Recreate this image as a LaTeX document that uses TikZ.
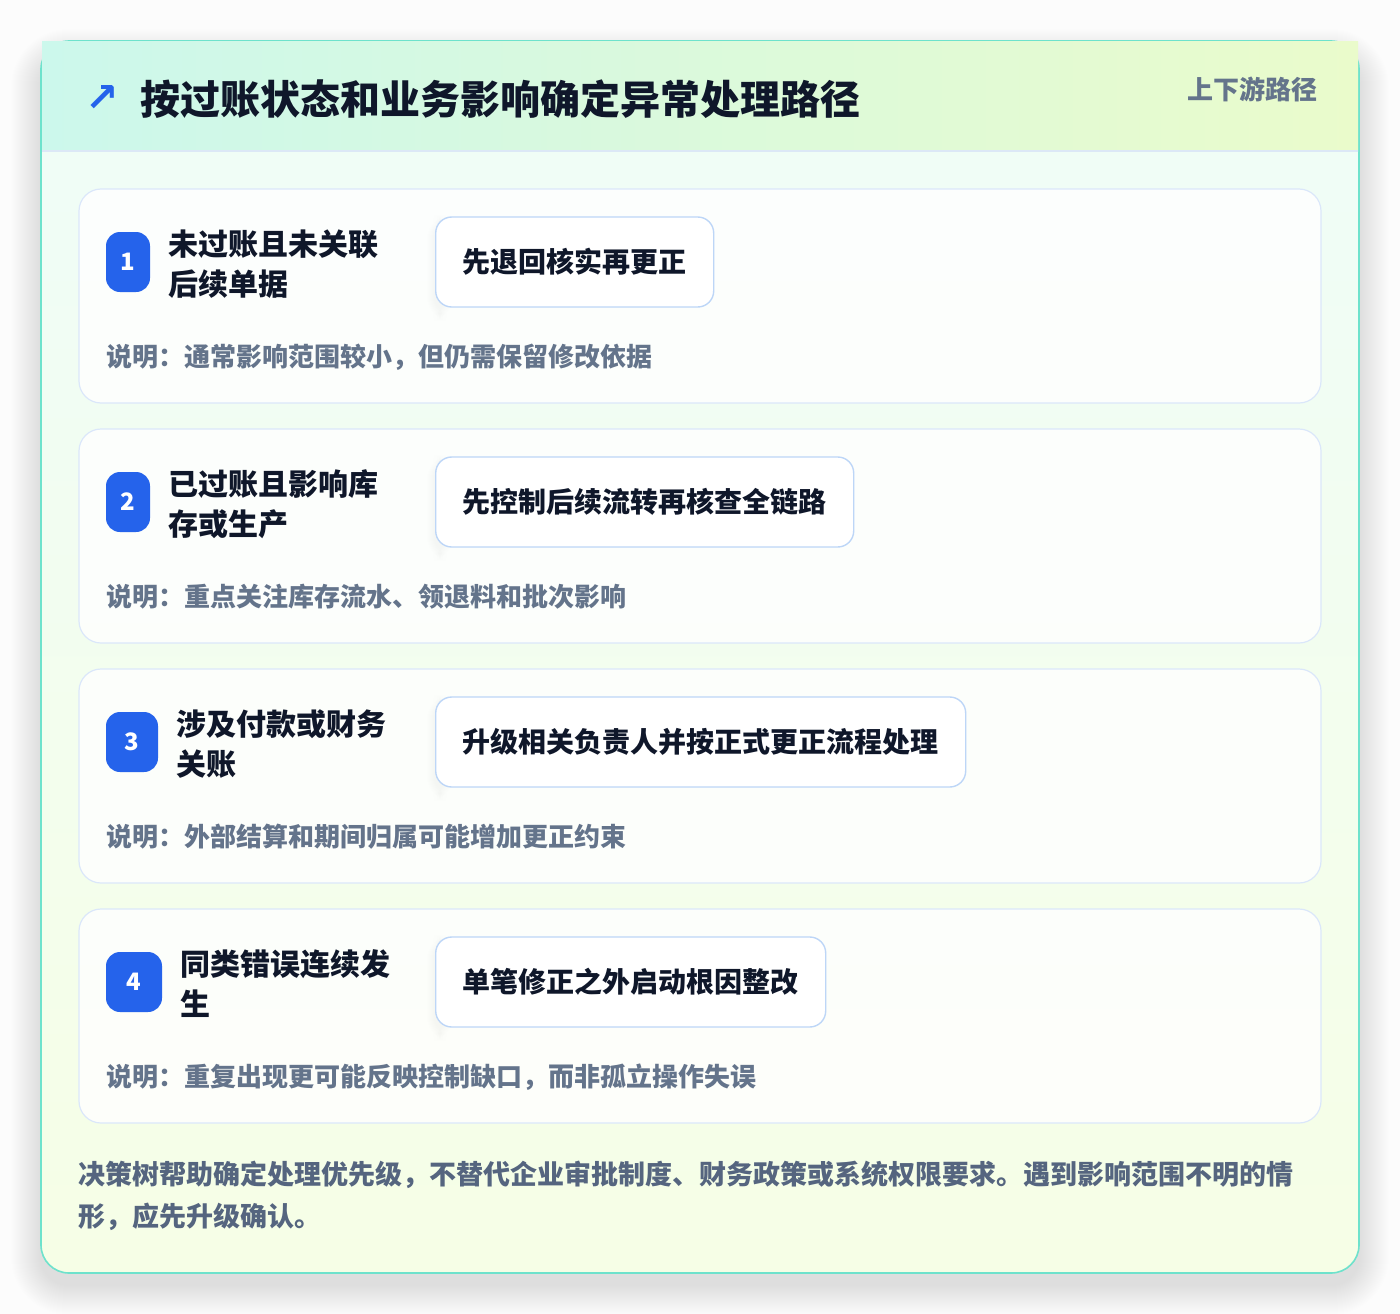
\documentclass[tikz,border=0pt]{standalone}
\usepackage{fontspec}
\setmainfont{Noto Sans CJK SC}
\newfontfamily\symfont{DejaVu Sans}
\definecolor{pagebg}{HTML}{FCFCFC}
\definecolor{bodytop}{HTML}{EFFDF8}
\definecolor{bodybot}{HTML}{F6FEE6}
\definecolor{hdrL}{HTML}{CCF8EC}
\definecolor{hdrR}{HTML}{EAFBCB}
\definecolor{outerline}{HTML}{6EE2CC}
\definecolor{hdrline}{HTML}{DCE8F6}
\definecolor{cardline}{HTML}{DBE7FA}
\definecolor{actline}{HTML}{BDD6F7}
\definecolor{badgeblue}{HTML}{2563EB}
\definecolor{titleink}{HTML}{0F172A}
\definecolor{descink}{HTML}{64748B}
\definecolor{footink}{HTML}{55657F}
\tikzset{
  cardbox/.style={rounded corners=22, fill=white, fill opacity=0.8, draw=cardline, line width=1.2pt},
  badgebox/.style={rounded corners=14, fill=badgeblue},
  numtext/.style={text=white, font=\fontsize{24}{26}\selectfont\bfseries},
  rowtitle/.style={anchor=west, align=left, inner sep=0pt, text=titleink, font=\fontsize{30}{40}\selectfont\bfseries},
  actbox/.style={anchor=west, rounded corners=16, fill=white, draw=actline, line width=1.4pt, minimum height=90pt, inner xsep=27pt, inner ysep=0pt, text=titleink, font=\fontsize{28}{30}\selectfont\bfseries},
  desctext/.style={anchor=west, inner sep=0pt, text=descink, font=\fontsize{26}{30}\selectfont\bfseries},
}
\begin{document}
\begin{tikzpicture}[x=1pt,y=-1pt]
\useasboundingbox (0,0) rectangle (1400,1314);
\fill[pagebg] (0,0) rectangle (1400,1314);
% soft shadow of main card
\foreach \i in {1,...,30}{
  \fill[black, opacity=0.0028, rounded corners=28+\i] (41-\i,41-\i+18) rectangle (1359+\i,1273+\i+12);
}
% main card
\shade[rounded corners=28, top color=bodytop, bottom color=bodybot] (41,41) rectangle (1359,1273);
\draw[outerline, line width=1.6pt, rounded corners=28] (41,41) rectangle (1359,1273);
% header
\shade[left color=hdrL, right color=hdrR] (42,42) rectangle (1358,151);
\draw[hdrline, line width=1.2pt] (42,151) -- (1358,151);
\node[text=badgeblue, font=\fontsize{40}{42}\selectfont\symfont\bfseries, inner sep=0pt] (icon) at (102,99) {↗};
\node[anchor=west, inner sep=0pt, text=titleink, font=\fontsize{40}{44}\selectfont\bfseries] (title) at (140,99) {按过账状态和业务影响确定异常处理路径};
\node[anchor=east, inner sep=0pt, text=descink, font=\fontsize{26}{30}\selectfont\bfseries] (tag) at (1318,89) {上下游路径};
% rows
\foreach \i/\w/\ttl/\act/\desc in {
  1/44/{未过账且未关联\\后续单据}/{先退回核实再更正}/{说明：通常影响范围较小，但仍需保留修改依据},
  2/44/{已过账且影响库\\存或生产}/{先控制后续流转再核查全链路}/{说明：重点关注库存流水、领退料和批次影响},
  3/52/{涉及付款或财务\\关账}/{升级相关负责人并按正式更正流程处理}/{说明：外部结算和期间归属可能增加更正约束},
  4/56/{同类错误连续发\\生}/{单笔修正之外启动根因整改}/{说明：重复出现更可能反映控制缺口，而非孤立操作失误}}{
  \pgfmathsetmacro{\yo}{189+240*(\i-1)}
  \path[cardbox] (79,\yo) rectangle (1321,\yo+214);
  \coordinate (card\i) at (79,\yo);
  \fill[badgebox] (106,\yo+43) rectangle (106+\w,\yo+103);
  \node[numtext] (num\i) at (106+\w/2,\yo+73) {\i};
  \node[rowtitle] (ttl\i) at (106+\w+18,\yo+75) {\ttl};
  \foreach \k in {1,...,8}{
    \fill[black, opacity=0.004, rounded corners=16+\k] (435-\k,\yo+28-\k+6) rectangle (435+\k+10,\yo+118+\k+6);
  }
  \node[actbox] (act\i) at (435,\yo+73) {\act};
  \node[desctext] (desc\i) at (106,\yo+168) {\desc};
}
% footer
\node[anchor=west, align=left, inner sep=0pt, text=footink, font=\fontsize{27}{42}\selectfont\bfseries] (foot) at (78,1196) {决策树帮助确定处理优先级，不替代企业审批制度、财务政策或系统权限要求。遇到影响范围不明的情\\形，应先升级确认。};
\end{tikzpicture}
\end{document}
